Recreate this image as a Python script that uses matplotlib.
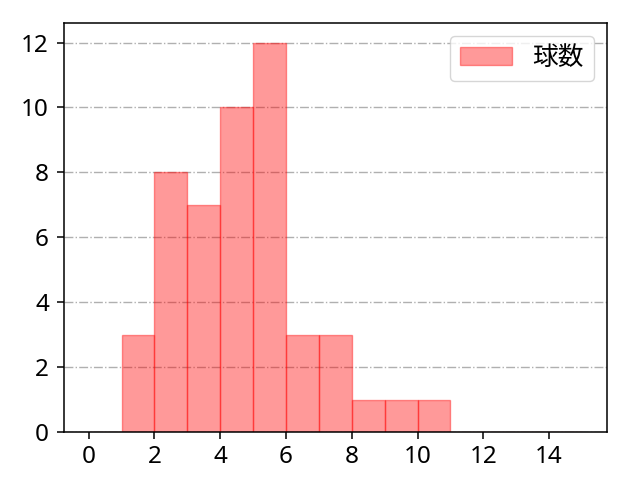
import matplotlib
matplotlib.use("Agg")
import matplotlib.pyplot as plt
import numpy as np

plt.rcParams['font.family'] = ['Noto Sans', 'Noto Sans CJK JP', 'DejaVu Sans']

bin_edges = list(range(0, 16))
counts = [0, 3, 8, 7, 10, 12, 3, 3, 1, 1, 1, 0, 0, 0, 0]
label = "球数"

fig, ax = plt.subplots(figsize=(6.4, 4.8), dpi=100)
ax.hist(bin_edges[:-1], bins=bin_edges, weights=counts, facecolor='red',
        edgecolor='red', alpha=0.4, linewidth=1.0, label=label)
ax.set_xticks(range(0, 16, 2))
ax.set_yticks(range(0, 13, 2))
ax.grid(axis='y', linestyle='-.', color='#b0b0b0', linewidth=1.0)
ax.set_axisbelow(True)
ax.tick_params(labelsize=17.5, length=4.8, width=1.1)
ax.tick_params(axis='x', pad=4.8)
ax.tick_params(axis='y', pad=6.0)
for s in ax.spines.values():
    s.set_linewidth(1.1)
ax.legend(fontsize=18.5, loc='upper right', handlelength=2.0)
fig.subplots_adjust(left=0.1, right=0.948, top=0.952, bottom=0.1)
fig.savefig("out.png", dpi=100)
